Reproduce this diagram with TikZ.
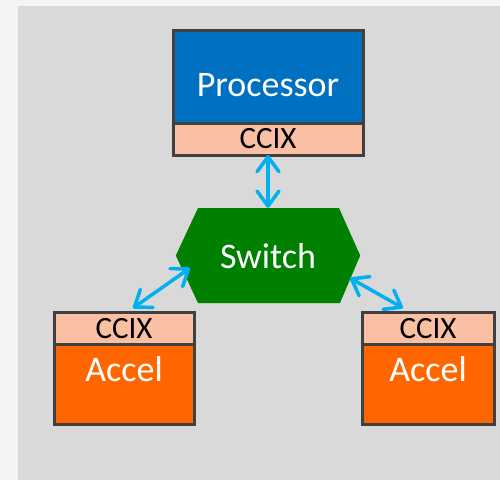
\documentclass[tikz,border=0pt]{standalone}
\usepackage{fontspec}
\setmainfont{Carlito}
\usetikzlibrary{arrows.meta,positioning}
\definecolor{panel}{HTML}{D9D9D9}
\definecolor{margin}{HTML}{F4F4F4}
\definecolor{procblue}{HTML}{0070C0}
\definecolor{ccixpeach}{HTML}{FBC0A4}
\definecolor{accelorange}{HTML}{FF6600}
\definecolor{swgreen}{HTML}{008000}
\definecolor{edge}{HTML}{404040}
\definecolor{link}{HTML}{00B0F0}
\tikzset{
  unitbox/.style={draw=edge, line width=3pt, inner sep=0pt, outer sep=0pt},
  bigtext/.style={text=white, font=\fontsize{36}{36}\selectfont},
  ccixpart/.style={unitbox, fill=ccixpeach, text=black, minimum height=32pt,
    font=\fontsize{31}{31}\selectfont},
  barb/.tip={Straight Barb[length=15pt,width=22pt,line width=3.5pt,round]},
  link/.style={draw=link, line width=3.5pt, line cap=round, barb-barb},
}
\begin{document}
\begin{tikzpicture}[x=1pt,y=-1pt]
  % page and panel
  \fill[margin] (0,0) rectangle (500,480);
  \fill[panel] (18,6) rectangle (500,480);
  \useasboundingbox (0,0) rectangle (500,480);

  % processor
  \node[unitbox, fill=procblue, minimum width=190pt, minimum height=93pt]
    (proc) at (268,76.5) {};
  \node[bigtext, anchor=base] at (268,96) {Processor};
  \node[ccixpart, minimum width=190pt, anchor=north] (pccix) at (proc.south) {CCIX};

  % switch
  \node[minimum width=184pt, minimum height=95pt, inner sep=0pt]
    (switch) at (268,255.5) {};
  \fill[swgreen] (switch.west) -- (198,208) -- (339,208) -- (switch.east)
    -- (340,303) -- (198,303) -- cycle;
  \node[bigtext, anchor=base] at (268,268) {Switch};

  % left accelerator
  \node[ccixpart, minimum width=140pt] (lccix) at (124,328.5) {CCIX};
  \node[unitbox, fill=accelorange, minimum width=140pt, minimum height=80pt,
    anchor=north] (laccel) at (lccix.south) {};
  \node[bigtext, anchor=base] at (124,381) {Accel};

  % right accelerator
  \node[ccixpart, minimum width=132pt] (rccix) at (428,328.5) {CCIX};
  \node[unitbox, fill=accelorange, minimum width=132pt, minimum height=80pt,
    anchor=north] (raccel) at (rccix.south) {};
  \node[bigtext, anchor=base] at (428,381) {Accel};

  % link ends
  \coordinate (lend) at (133,308);
  \coordinate (lsw) at (190,268);
  \coordinate (rsw) at (350,278);
  \coordinate (rend) at (403,308);

  % links
  \draw[link] (pccix.south) -- (switch.north);
  \draw[link] (lend) -- (lsw);
  \draw[link] (rsw) -- (rend);
\end{tikzpicture}
\end{document}
